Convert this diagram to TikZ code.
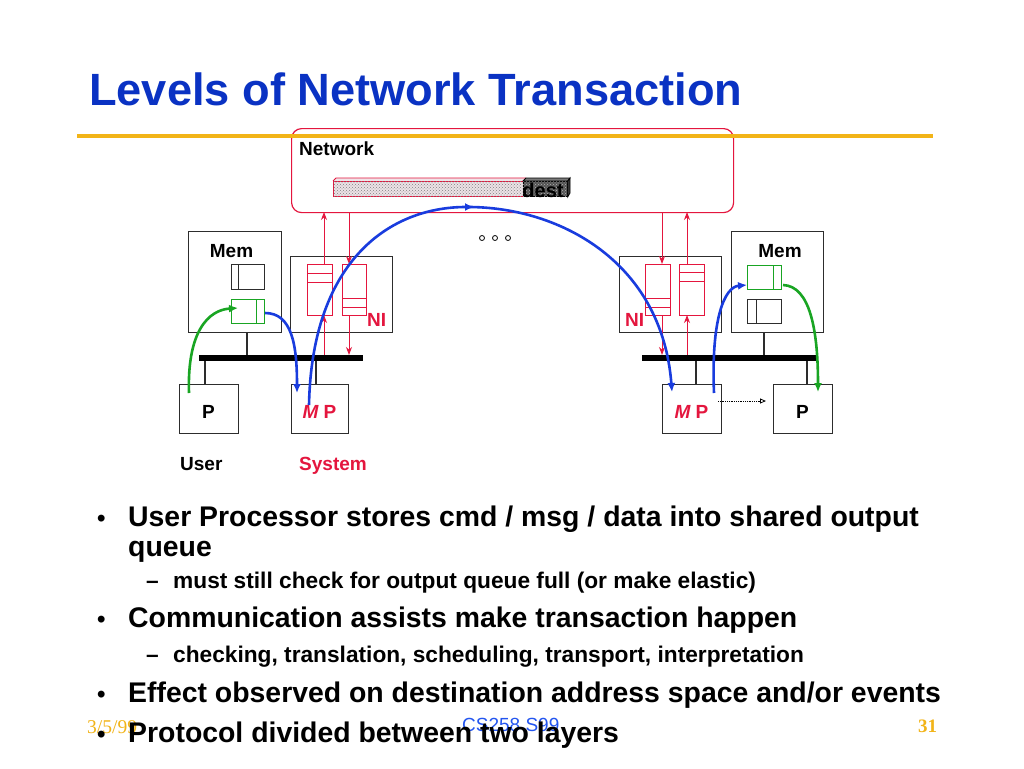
\documentclass[tikz,border=0pt]{standalone}
\usepackage{fontspec}
\setmainfont{Liberation Sans}
\newfontfamily\serifft{Liberation Serif}
\usetikzlibrary{arrows.meta,patterns}
\definecolor{titleblue}{RGB}{10,50,195}
\definecolor{gold}{RGB}{242,180,24}
\definecolor{nred}{RGB}{228,22,62}
\definecolor{arrblue}{RGB}{25,60,222}
\definecolor{arrgreen}{RGB}{25,165,35}
\definecolor{boxgray}{RGB}{45,45,45}
\definecolor{footblue}{RGB}{35,85,240}
\definecolor{pkttop}{RGB}{240,228,232}
\definecolor{pktfill}{RGB}{236,226,230}
\definecolor{dstfill}{RGB}{85,85,85}
\definecolor{dsttop}{RGB}{120,120,120}
\definecolor{dstside}{RGB}{60,60,60}
\tikzset{
  lbl/.style={inner sep=0pt, font=\fontsize{19}{22}\selectfont\bfseries},
  box/.style={draw=boxgray, line width=1.3pt, inner sep=0pt, anchor=north west},
  qbox/.style={line width=1pt, inner sep=0pt, anchor=north west},
  bus/.style={fill=black, inner sep=0pt, anchor=north west, minimum width=#1, minimum height=6pt},
  wire/.style={draw=boxgray, line width=1.2pt},
  redarr/.style={nred, line width=1pt, -{Stealth[length=8pt,width=6pt]}},
  bluearr/.style={arrblue, line width=2.6pt, -{Latex[length=9pt,width=8pt]}},
  greenarr/.style={arrgreen, line width=2.6pt, -{Latex[length=9pt,width=8pt]}},
  bul/.style={inner sep=0pt, anchor=base west, font=\fontsize{28.4}{32}\selectfont\bfseries},
  bdot/.style={inner sep=0pt, anchor=base west, font=\fontsize{24}{28}\selectfont\bfseries},
  sub/.style={inner sep=0pt, anchor=base west, font=\fontsize{22.7}{26}\selectfont\bfseries},
  dotc/.style={circle, draw=black, line width=0.8pt, minimum size=5pt, inner sep=0pt}
}
\begin{document}
\begin{tikzpicture}[x=1pt,y=-1pt]
\useasboundingbox (0,0) rectangle (1024,768);
\fill[white] (0,0) rectangle (1024,768);

% title
\node[inner sep=0pt, anchor=base west, text=titleblue, font=\fontsize{45.2}{50}\selectfont\bfseries] (title) at (89,105) {Levels of Network Transaction};

% network box
\node[draw=nred, line width=1.2pt, rounded corners=10pt, minimum width=442pt, minimum height=84pt, inner sep=0pt, anchor=north west] (net) at (291,128) {};
\draw[gold, line width=4pt] (77,136) coordinate (gl) -- (933,136) coordinate (gr);
\node[lbl, anchor=base west] (netlbl) at (299,155) {Network};

% packet
\fill[pkttop] (333,181) -- (336,178) -- (526,178) -- (523,181) -- cycle;
\node[draw=nred, line width=0.8pt, fill=pktfill, minimum width=190pt, minimum height=15pt, inner sep=0pt, anchor=north west] (pkt) at (333,181) {};
\fill[pattern=crosshatch dots, pattern color=gray] (pkt.north west) rectangle (pkt.south east);
\draw[nred, line width=0.8pt] (pkt.north west) -- (336,178) -- (526,178);
\node[draw=black, line width=0.8pt, fill=dstfill, minimum width=44pt, minimum height=15pt, inner sep=0pt, anchor=north west] (dst) at (523,181) {};
\fill[pattern=crosshatch dots, pattern color=gray!60] (dst.north west) rectangle (dst.south east);
\draw[black, line width=0.8pt, fill=dsttop] (dst.north west) -- (526,178) -- (570,178) -- (dst.north east) -- cycle;
\draw[black, line width=0.8pt, fill=dstside] (dst.north east) -- (570,178) -- (570,193) -- (dst.south east) -- cycle;
\node[lbl, font=\fontsize{20}{22}\selectfont\bfseries, anchor=base] (dest) at (543,197) {dest};

% dots
\node[dotc] (d1) at (482,238) {};
\node[dotc] (d2) at (495,238) {};
\node[dotc] (d3) at (508,238) {};

% ---------- left node ----------
\node[box, minimum width=93pt, minimum height=101pt] (memL) at (188,231) {};
\node[lbl, anchor=base] (memLt) at (231.5,257) {Mem};
\node[qbox, draw=boxgray, minimum width=33pt, minimum height=25pt] (bqL) at (231,264) {};
\draw[boxgray, line width=1pt] (238,264) coordinate (bqLa) -- (238,289) coordinate (bqLb);
\node[qbox, draw=arrgreen, minimum width=33pt, minimum height=24pt] (gqL) at (231,299) {};
\draw[arrgreen, line width=1pt] (256,299) coordinate (gqLa) -- (256,323) coordinate (gqLb);

\node[box, minimum width=102pt, minimum height=76pt] (niL) at (290,256) {};
\node[qbox, draw=nred, minimum width=25pt, minimum height=51pt] (qa) at (307,264) {};
\draw[nred, line width=1pt] (307,273) -- (332,273) (307,282) -- (332,282);
\node[qbox, draw=nred, minimum width=24pt, minimum height=51pt] (qb) at (342,264) {};
\draw[nred, line width=1pt] (342,298) -- (366,298) (342,307) -- (366,307);
\node[lbl, anchor=base west, text=nred] (niLt) at (367,326) {NI};

\node[bus=164pt] (busL) at (199,355) {};
\node[box, minimum width=59pt, minimum height=49pt] (pL) at (179,384) {};
\node[lbl, anchor=base] (pLt) at (208.5,418) {P};
\node[box, minimum width=57pt, minimum height=49pt] (mpL) at (291,384) {};
\node[lbl, anchor=base, text=nred] (mpLt) at (319.5,418) {\itshape M\upshape\ P};
\draw[wire] (247,332) -- (247,355);
\draw[wire] (205,361) -- (205,384);
\draw[wire] (316,361) -- (316,384);
\node[lbl, anchor=base west] (user) at (180,470) {User};
\node[lbl, anchor=base, text=nred] (sys) at (333,470) {System};

% ---------- right node ----------
\node[box, minimum width=102pt, minimum height=76pt] (niR) at (619,256) {};
\node[qbox, draw=nred, minimum width=25pt, minimum height=51pt] (qc) at (645,264) {};
\draw[nred, line width=1pt] (645,298) -- (670,298) (645,307) -- (670,307);
\node[qbox, draw=nred, minimum width=25pt, minimum height=51pt] (qd) at (679,264) {};
\draw[nred, line width=1pt] (679,272) -- (704,272) (679,281) -- (704,281);
\node[lbl, anchor=base west, text=nred] (niRt) at (625,326) {NI};

\node[box, minimum width=92pt, minimum height=101pt] (memR) at (731,231) {};
\node[lbl, anchor=base] (memRt) at (780,257) {Mem};
\node[qbox, draw=arrgreen, minimum width=34pt, minimum height=24pt] (gqR) at (747,265) {};
\draw[arrgreen, line width=1pt] (773,265) -- (773,289);
\node[qbox, draw=boxgray, minimum width=34pt, minimum height=24pt] (bqR) at (747,299) {};
\draw[boxgray, line width=1pt] (756,299) -- (756,323);

\node[bus=176pt] (busR) at (642,355) {};
\node[box, minimum width=59pt, minimum height=49pt] (mpR) at (662,384) {};
\node[lbl, anchor=base, text=nred] (mpRt) at (691.5,418) {\itshape M\upshape\ P};
\node[box, minimum width=59pt, minimum height=49pt] (pR) at (773,384) {};
\node[lbl, anchor=base] (pRt) at (802.5,418) {P};
\draw[wire] (764,332) -- (764,355);
\draw[wire] (696,361) -- (696,384);
\draw[wire] (807,361) -- (807,384);

% ---------- red NI arrows ----------
\draw[redarr] (324,355) -- (324,315);
\draw[redarr] (324,264) -- (324,212);
\draw[redarr] (349,212) -- (349,264);
\draw[redarr] (349,315) -- (349,355);
\draw[redarr] (662,212) -- (662,264);
\draw[redarr] (662,315) -- (662,355);
\draw[redarr] (687,355) -- (687,315);
\draw[redarr] (687,264) -- (687,212);

% ---------- flow arrows ----------
\coordinate (apex) at (474,207);
\draw[greenarr] (189,393) .. controls (187,332) and (208,310) .. (238,308);
\draw[bluearr] (265,313) .. controls (292,313) and (297,345) .. (297,393);
\draw[bluearr] (309,405) .. controls (312,258) and (392,207) .. (apex);
\draw[bluearr] (468,207) .. controls (560,207) and (662,262) .. (672,392);
\draw[bluearr] (714,393) .. controls (711,320) and (724,287) .. (747,285);
\draw[greenarr] (783,285) .. controls (810,286) and (818,330) .. (818,392);
\draw[black, line width=0.8pt, densely dotted, -{Triangle[open,length=6pt,width=5pt]}] (718,401) -- (766,401);

% ---------- footer ----------
\node[inner sep=0pt, anchor=base west, text=gold, font=\serifft\fontsize{19.5}{22}\selectfont] (date) at (87,733) {3/5/99};
\node[inner sep=0pt, anchor=base west, text=footblue, font=\fontsize{19}{22}\selectfont] (course) at (462,731) {CS258 S99};
\node[inner sep=0pt, anchor=base west, text=gold, font=\serifft\fontsize{19}{22}\selectfont\bfseries] (page) at (918,732) {31};

% ---------- bullets ----------
\node[bdot] (b1d) at (97,526) {•};
\node[bul] (b1) at (128,526) {User Processor stores cmd / msg / data into shared output};
\node[bul] (b1b) at (128,556) {queue};
\node[sub] (s1d) at (146,588) {–};
\node[sub] (s1) at (173,588) {must still check for output queue full (or make elastic)};
\node[bdot] (b2d) at (97,627) {•};
\node[bul] (b2) at (128,627) {Communication assists make transaction happen};
\node[sub] (s2d) at (146,662) {–};
\node[sub] (s2) at (173,662) {checking, translation, scheduling, transport, interpretation};
\node[bdot] (b3d) at (97,702) {•};
\node[bul] (b3) at (128,702) {Effect observed on destination address space and/or events};
\node[bdot] (b4d) at (97,742) {•};
\node[bul] (b4) at (128,742) {Protocol divided between two layers};
\end{tikzpicture}
\end{document}
